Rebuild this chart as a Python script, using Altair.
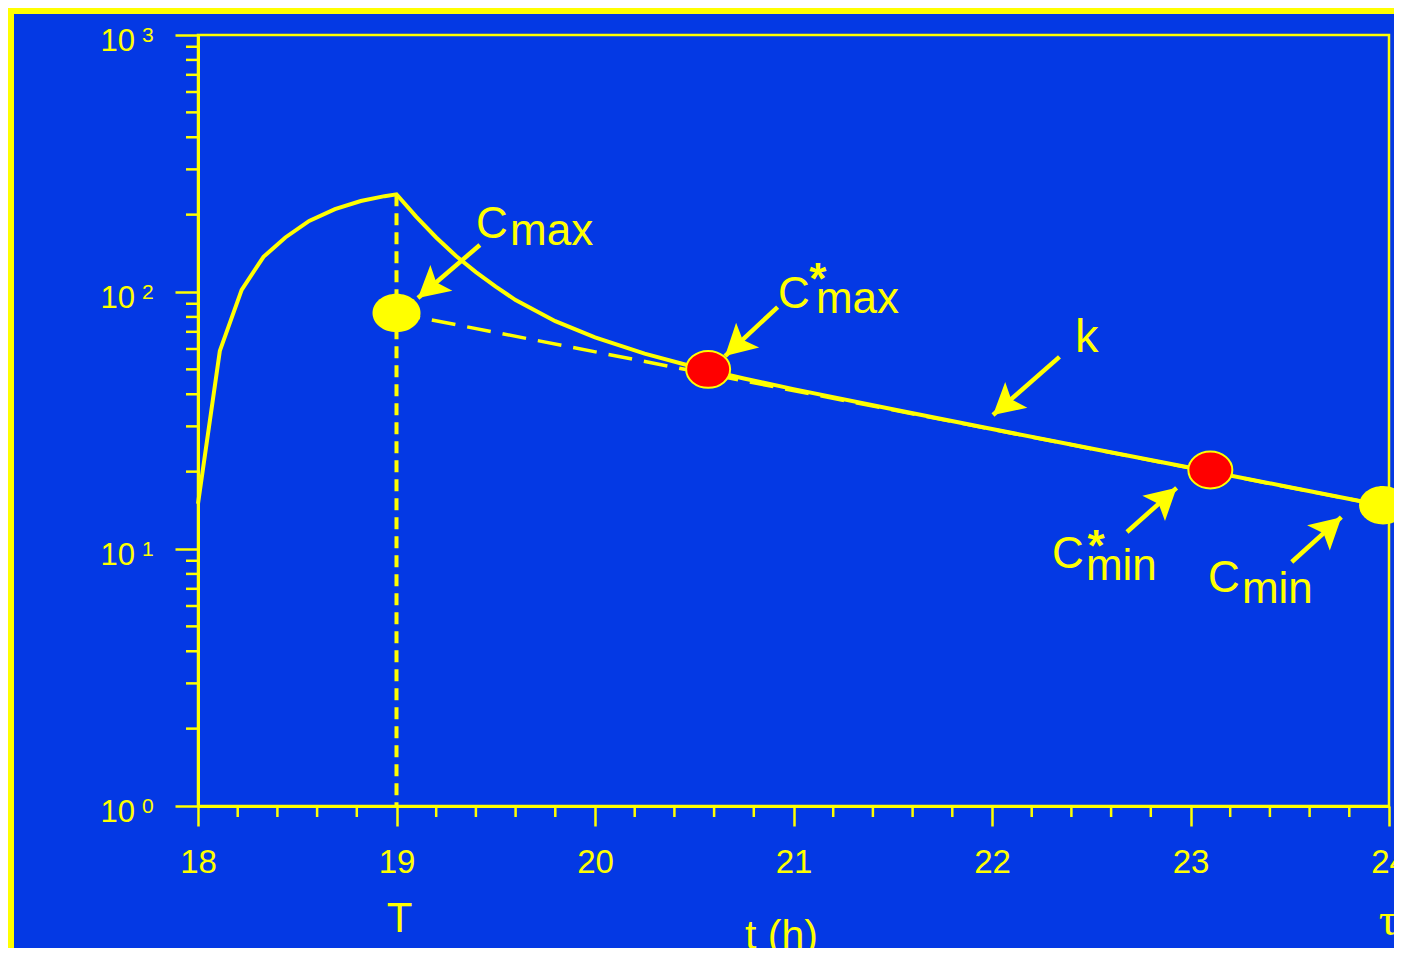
import altair as alt
import pandas as pd

# ---- data ----
t_curve = [18.0, 18.11, 18.22, 18.33, 18.44, 18.56, 18.69, 18.82, 18.94, 19.0,
           19.1, 19.2, 19.3, 19.4, 19.5, 19.6, 19.8, 20.0, 20.25, 20.5, 20.75,
           21.0, 21.5, 22.0, 22.5, 23.0, 23.5, 24.0]
c_curve = [15, 59, 102, 137, 163, 189, 210, 226, 236, 240,
           196, 163, 138, 119.5, 105, 93, 77, 66.6, 57.6, 51.1, 46.1,
           41.9, 35.0, 29.3, 24.6, 20.7, 17.4, 14.6]

dash_t = [19.0, 24.0]
dash_c = [82.8, 14.6]

peak_t = [19.0]
peak_c = [240.0]

yellow_t = [19.0, 23.97]
yellow_c = [82.8, 14.8]
red_t = [20.57, 23.1]
red_c = [50.0, 20.3]

arrow_tail_t = [19.42, 20.92, 22.34, 22.68, 23.51]
arrow_tail_c = [152.4, 87.4, 55.9, 11.65, 8.9]
arrow_tip_t = [19.108, 20.655, 22.005, 22.93, 23.76]
arrow_tip_c = [94.8, 56.3, 33.2, 17.3, 13.3]
arrow_angle = [229.5, 227.2, 229.1, 48.1, 48.0]

c_label_t = [19.401, 20.922, 22.302, 23.088]
c_label_c = [162.3, 86.6, 8.44, 6.80]
sub_text = ["max", "max", "min", "min"]
sub_t = [19.572, 21.113, 22.473, 23.259]
sub_c = [152.4, 82.85, 7.575, 6.165]
star_t = [21.123, 22.524]
star_c = [98.2, 9.0]
k_t = [22.418]
k_c = [58.4]

x_ticks = [18, 19, 20, 21, 22, 23, 24]
x_minor = [18.2, 18.4, 18.6, 18.8, 19.2, 19.4, 19.6, 19.8, 20.2, 20.4, 20.6, 20.8,
           21.2, 21.4, 21.6, 21.8, 22.2, 22.4, 22.6, 22.8, 23.2, 23.4, 23.6, 23.8]
y_decades = [1, 10, 100, 1000]
y_exps = ["0", "1", "2", "3"]
y_minor = [m * d for d in [1, 10, 100] for m in range(2, 10)]

YEL = "#FFFF00"
BG = "#0439E4"
FONT = "Liberation Sans"

xs = alt.Scale(domain=[18, 24], nice=False, zero=False)
ys = alt.Scale(type="log", domain=[1, 1000], nice=False)

curve_df = pd.DataFrame({"t": t_curve, "c": c_curve})
dash_df = pd.DataFrame({"t": dash_t, "c": dash_c})
peak_df = pd.DataFrame({"t": peak_t, "c": peak_c, "c0": [1.0]})
ypt_df = pd.DataFrame({"t": yellow_t, "c": yellow_c})
rpt_df = pd.DataFrame({"t": red_t, "c": red_c})
arr_df = pd.DataFrame({"t": arrow_tail_t, "c": arrow_tail_c,
                       "t2": arrow_tip_t, "c2": arrow_tip_c, "ang": arrow_angle})
clab_df = pd.DataFrame({"t": c_label_t, "c": c_label_c, "txt": ["C"] * 4})
sub_df = pd.DataFrame({"t": sub_t, "c": sub_c, "txt": sub_text})
star_df = pd.DataFrame({"t": star_t, "c": star_c, "txt": ["*"] * 2})
k_df = pd.DataFrame({"t": k_t, "c": k_c, "txt": ["k"]})
ymin_df = pd.DataFrame({"c": y_minor})
xmin_df = pd.DataFrame({"t": x_minor})
ydec_df = pd.DataFrame({"c": y_decades, "e": y_exps, "b": ["10"] * 4})
one = pd.DataFrame({"a": [0]})

X = lambda f="t": alt.X(f"{f}:Q", scale=xs)
Y = lambda f="c": alt.Y(f"{f}:Q", scale=ys)

border = alt.Chart(one).mark_rect(filled=False, stroke=YEL, strokeWidth=6).encode(
    x=alt.value(-187), x2=alt.value(1400), y=alt.value(-24), y2=alt.value(1000))

base_axes = alt.Chart(curve_df).mark_line(stroke=YEL, strokeWidth=4).encode(
    x=alt.X("t:Q", scale=xs,
            axis=alt.Axis(values=x_ticks, format="d", title="t (h)", tickSize=20,
                          labelPadding=20, titleX=583, titleY=142, titleAlign="center",
                          titleBaseline="alphabetic", titleAngle=0)),
    y=alt.Y("c:Q", scale=ys,
            axis=alt.Axis(values=y_decades, labels=False, title=None, tickSize=23)))

dashed = alt.Chart(dash_df).mark_line(stroke=YEL, strokeWidth=3.5, strokeDash=[24, 12]).encode(
    x=X(), y=Y())

vline = alt.Chart(peak_df).mark_rule(stroke=YEL, strokeWidth=4, strokeDash=[12, 7]).encode(
    x=X(), y=Y(), y2="c0:Q")

ELL_Y = "M-1,0A1,0.8,0,1,1,1,0A1,0.8,0,1,1,-1,0Z"
ELL_R = "M-1,0A1,0.84,0,1,1,1,0A1,0.84,0,1,1,-1,0Z"

ypts = alt.Chart(ypt_df).mark_point(shape=ELL_Y, size=2304, filled=True, fill=YEL,
                                    stroke=YEL, strokeWidth=0, opacity=1).encode(x=X(), y=Y())
rpts = alt.Chart(rpt_df).mark_point(shape=ELL_R, size=1936, filled=True, fill="#FF0000",
                                    stroke=YEL, strokeWidth=2, opacity=1).encode(x=X(), y=Y())

shafts = alt.Chart(arr_df).mark_rule(stroke=YEL, strokeWidth=4.5).encode(
    x=X(), y=Y(), x2="t2:Q", y2="c2:Q")
HEAD = "M0,0L0.55,1L0,0.78L-0.55,1Z"
heads = alt.Chart(arr_df).mark_point(shape=HEAD, size=3800, filled=True, fill=YEL,
                                     strokeWidth=0, opacity=1).encode(
    x=X("t2"), y=Y("c2"), angle=alt.Angle("ang:Q", scale=None))

def txt(df, size, weight="normal", font=FONT, align="left"):
    return alt.Chart(df).mark_text(font=font, fontSize=size, fontWeight=weight, color=YEL,
                                   align=align, baseline="alphabetic").encode(
        x=X(), y=Y(), text="txt:N")

clab = txt(clab_df, 44)
subl = txt(sub_df, 44)
starl = txt(star_df, 44, weight="bold", align="center")
kl = txt(k_df, 47)

ymin = alt.Chart(ymin_df).mark_rule(stroke=YEL, strokeWidth=2.5).encode(
    y=Y(), x=alt.value(-12), x2=alt.value(0))
xmin = alt.Chart(xmin_df).mark_rule(stroke=YEL, strokeWidth=2.5).encode(
    x=X(), y=alt.value(771), y2=alt.value(782))

ylab10 = alt.Chart(ydec_df).mark_text(font=FONT, fontSize=31, color=YEL, align="right",
                                      baseline="alphabetic", dy=16).encode(
    y=Y(), x=alt.value(-63), text="b:N")
ylabexp = alt.Chart(ydec_df).mark_text(font=FONT, fontSize=21, color=YEL, align="left",
                                       baseline="alphabetic", dy=7).encode(
    y=Y(), x=alt.value(-56), text="e:N")

tdf = pd.DataFrame({"t": [19.0], "txt": ["T"]})
taudf = pd.DataFrame({"t": [24.0], "txt": ["τ"]})
T_lab = alt.Chart(tdf).mark_text(font=FONT, fontSize=42, color=YEL, align="center",
                                 baseline="alphabetic", dx=3).encode(
    x=X(), y=alt.value(897), text="txt:N")
tau_lab = alt.Chart(taudf).mark_text(font="Liberation Serif", fontSize=46, color=YEL,
                                     align="center", baseline="alphabetic", dx=-1).encode(
    x=X(), y=alt.value(900), text="txt:N")

chart = alt.layer(
    border, ymin, xmin, vline, dashed, base_axes, shafts, heads, ypts, rpts,
    clab, subl, starl, kl, ylab10, ylabexp, T_lab, tau_lab
).properties(
    width=1191, height=771,
    padding={"left": 190, "top": 27, "right": 5, "bottom": 142},
    autosize=alt.AutoSizeParams(type="none"),
).configure(
    background=BG
).configure_view(
    stroke=YEL, strokeWidth=2.5
).configure_axis(
    domainColor=YEL, domainWidth=3, tickColor=YEL, tickWidth=2.5, grid=False,
    labelColor=YEL, labelFont=FONT, labelFontSize=33, labelBound=False, labelFlush=False,
    labelOverlap=False,
    titleColor=YEL, titleFont=FONT, titleFontSize=41, titleFontWeight="normal"
)

chart.save("out.html", embed_options={"renderer": "svg", "actions": False})
